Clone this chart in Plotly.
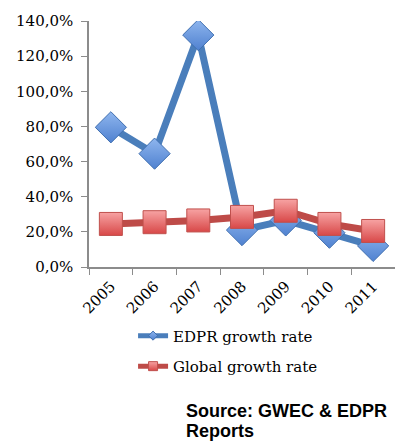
import plotly.graph_objects as go

years = ["2005", "2006", "2007", "2008", "2009", "2010", "2011"]
edpr_growth = [79.5, 64.5, 132.0, 21.0, 26.5, 19.5, 12.0]
global_growth = [24.5, 25.5, 26.5, 28.5, 32.0, 24.5, 20.5]
y_ticks = [0, 20, 40, 60, 80, 100, 120, 140]
y_tick_text = [f"{v:.1f}".replace(".", ",") + "%" for v in y_ticks]
source_lines = ["Source: GWEC & EDPR", "Reports"]
series_names = ["EDPR growth rate", "Global growth rate"]

BLUE_LINE = "#4A7EBB"
RED_LINE = "#BE4B48"
SERIF = "DejaVu Serif"

styles = [
    dict(line=BLUE_LINE, symbol="diamond", fill="#8FB6EE", grad="#4F81D0",
         edge="#3F6FB0", size=24, leg_size=7),
    dict(line=RED_LINE, symbol="square", fill="#F7A3A3", grad="#D84848",
         edge="#C0504D", size=23, leg_size=9),
]

fig = go.Figure()
for name, values, st, grp in zip(series_names, [edpr_growth, global_growth], styles, ["a", "b"]):
    fig.add_trace(go.Scatter(
        x=years, y=values, name=name, mode="lines+markers",
        showlegend=False,
        line=dict(color=st["line"], width=7),
        marker=dict(symbol=st["symbol"], size=st["size"], color=st["fill"],
                    gradient=dict(type="vertical", color=st["grad"]),
                    line=dict(color=st["edge"], width=1)),
    ))
    # legend entry with small marker, as in the reference
    fig.add_trace(go.Scatter(
        x=[None], y=[None], name=name, mode="lines+markers",
        legendgroup=grp, showlegend=True,
        line=dict(color=st["line"], width=5),
        marker=dict(symbol=st["symbol"], size=st["leg_size"], color=st["fill"],
                    gradient=dict(type="vertical", color=st["grad"]),
                    line=dict(color=st["edge"], width=1)),
    ))

annotations = []
for i, line in enumerate(source_lines):
    annotations.append(dict(
        text=f"<b>{line}</b>",
        xref="paper", yref="paper", x=0.31, y=-0.585 - i * 0.083,
        xanchor="left", yanchor="middle", align="left", showarrow=False,
        font=dict(family="Liberation Sans", size=18, color="black"),
    ))

fig.update_layout(
    width=395, height=441,
    margin=dict(l=89, r=0, t=21, b=174),
    paper_bgcolor="white", plot_bgcolor="white",
    font=dict(family=SERIF, size=15, color="black"),
    showlegend=True,
    legend=dict(x=0.144, y=-0.213, xanchor="left", yanchor="top",
                orientation="v", traceorder="grouped", tracegroupgap=8,
                font=dict(family=SERIF, size=15), bgcolor="rgba(0,0,0,0)"),
    annotations=annotations,
)
fig.update_xaxes(
    type="category", range=[-0.5, 6.5],
    showline=True, linecolor="#8C8C8C", linewidth=1.5,
    ticks="outside", tickson="boundaries", ticklen=6, tickcolor="#8C8C8C",
    tickangle=-45, ticklabelstandoff=3, showgrid=False, zeroline=False,
)
fig.update_yaxes(
    range=[0, 140], tickvals=y_ticks, ticktext=y_tick_text,
    showline=True, linecolor="#8C8C8C", linewidth=1.5,
    ticks="outside", ticklen=6, tickcolor="#8C8C8C", ticklabelstandoff=5,
    showgrid=False, zeroline=False,
)

fig.write_html("out.html")
